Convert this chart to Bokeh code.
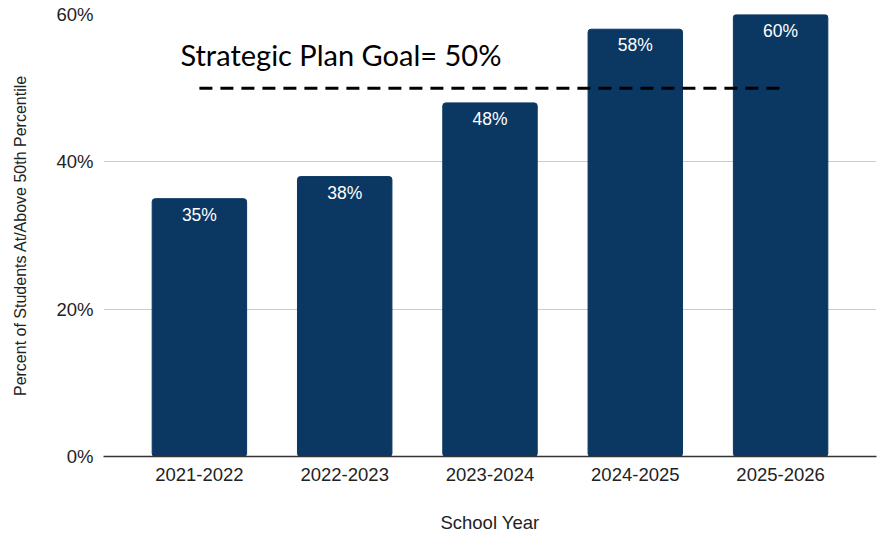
from bokeh.plotting import figure
from bokeh.models import FactorRange, Range1d, FixedTicker, PrintfTickFormatter, ColumnDataSource
from bokeh.core.properties import value
from bokeh.embed import file_html
from bokeh.resources import INLINE

years = ["2021-2022", "2022-2023", "2023-2024", "2024-2025", "2025-2026"]
percents = [35, 38, 48, 58, 60]
labels = ["35%", "38%", "48%", "58%", "60%"]
goal = 50
goal_text = "Strategic Plan Goal= 50%"
y_ticks = [0, 20, 40, 60]

BAR = "#0b3763"
FONT = "Liberation Sans"

p = figure(x_range=FactorRange(*years, range_padding=0.064), y_range=Range1d(0, 60),
           frame_width=773, frame_height=442, output_backend="svg", toolbar_location=None,
           min_border_top=14, min_border_left=103, min_border_right=2, min_border_bottom=40)
p.outline_line_color = None

src = ColumnDataSource(dict(x=years, top=percents, label=labels))
p.vbar(x="x", top="top", width=0.65, source=src, color=BAR, border_radius=3)
p.text(x="x", y="top", text="label", source=src, text_color="white",
       text_font=value(FONT), text_font_size="17.5px", text_align="center",
       text_baseline="top", y_offset=6)

p.line(x=[years[0], years[-1]], y=[goal, goal], line_color="black", line_width=3,
       line_dash="13 8")
p.text(x=[years[0]], y=[goal], text=[goal_text], text_font=value("Lato"),
       text_font_size="29px", text_color="black", text_baseline="middle",
       text_align="left", x_offset=-19, y_offset=-34)

p.xgrid.grid_line_color = None
p.ygrid.grid_line_color = "#cccccc"
p.ygrid.grid_line_width = 1

p.yaxis.ticker = FixedTicker(ticks=y_ticks)
p.yaxis.formatter = PrintfTickFormatter(format="%d%%")
p.yaxis.axis_line_color = None
p.yaxis.major_tick_line_color = None
p.yaxis.minor_tick_line_color = None
p.yaxis.major_label_text_font = FONT
p.yaxis.major_label_text_font_size = "18.5px"
p.yaxis.major_label_text_color = "#222222"
p.yaxis.major_label_standoff = 4
p.yaxis.axis_label = "Percent of Students At/Above 50th Percentile"
p.yaxis.axis_label_text_font = FONT
p.yaxis.axis_label_text_font_style = "normal"
p.yaxis.axis_label_text_font_size = "16px"
p.yaxis.axis_label_text_color = "#222222"
p.yaxis.axis_label_standoff = 24

p.xaxis.axis_line_color = "#333333"
p.xaxis.axis_line_width = 1.5
p.xaxis.major_tick_line_color = None
p.xaxis.minor_tick_line_color = None
p.xaxis.major_label_text_font = FONT
p.xaxis.major_label_text_font_size = "18.5px"
p.xaxis.major_label_text_color = "#222222"
p.xaxis.major_label_standoff = 5
p.xaxis.axis_label = "School Year"
p.xaxis.axis_label_text_font = FONT
p.xaxis.axis_label_text_font_style = "normal"
p.xaxis.axis_label_text_font_size = "18.5px"
p.xaxis.axis_label_text_color = "#222222"
p.xaxis.axis_label_standoff = 28

open("out.html", "w").write(file_html(p, INLINE))
